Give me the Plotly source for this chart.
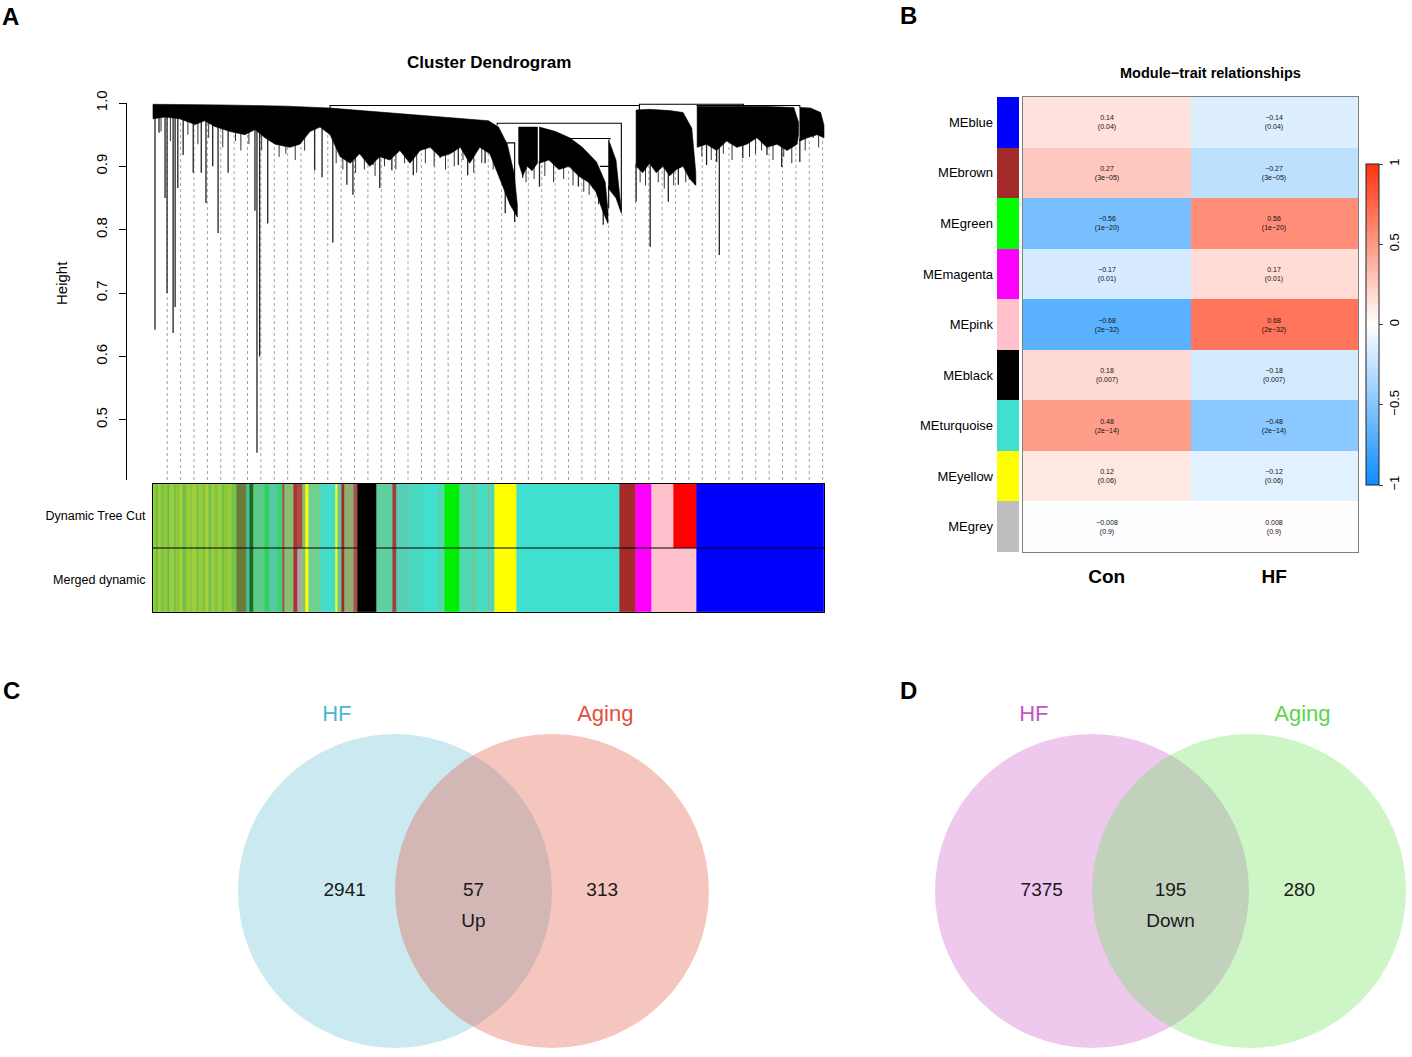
import numpy as np
import plotly.graph_objects as go

W, H = 1412, 1057
FONT = "Liberation Sans, Arial, Helvetica, sans-serif"
NARROW = "Liberation Sans Narrow, Arial Narrow, Liberation Sans, Arial, sans-serif"

# ================= Panel A: cluster dendrogram =================
# x = leaf position in % of leaf order, h = merge height
L_top_x = [0, 5, 10, 15, 20, 26.4, 32, 38, 44, 50, 51.5, 52.8, 53.8, 54.3]
L_top_h = [0.998, 0.998, 0.997, 0.996, 0.995, 0.992, 0.987, 0.982, 0.977, 0.972, 0.962, 0.935, 0.89, 0.84]
L_bot_x = [0, 1.8, 4, 6.3, 7.7, 9.2, 11.5, 13.7, 15.2, 16.7, 18.2, 20.4, 21.9, 23.4, 24.9, 26.4, 27.9,
           29.4, 30.8, 32.3, 33.8, 35.3, 36.8, 38.3, 39.8, 41.3, 42.8, 44.3, 45.8, 47.2, 48.7, 50.2,
           51.7, 53.2, 54.3]
L_bot_h = [0.975, 0.978, 0.975, 0.966, 0.972, 0.963, 0.955, 0.95, 0.958, 0.945, 0.935, 0.93, 0.935,
           0.955, 0.962, 0.95, 0.915, 0.905, 0.92, 0.90, 0.915, 0.91, 0.925, 0.905, 0.925, 0.93,
           0.915, 0.92, 0.93, 0.905, 0.93, 0.92, 0.88, 0.84, 0.82]
M1_top_x = [54.5, 57.3]
M1_top_h = [0.962, 0.962]
M1_bot_x = [54.5, 55.1, 55.8, 56.5, 57.3]
M1_bot_h = [0.905, 0.885, 0.9, 0.893, 0.905]
M2_top_x = [57.6, 60, 62.1, 64, 66.1, 67.4, 67.8]
M2_top_h = [0.962, 0.955, 0.945, 0.93, 0.907, 0.875, 0.83]
M2_bot_x = [57.6, 59, 60.5, 62, 63.4, 64.9, 66, 67, 67.8]
M2_bot_h = [0.905, 0.91, 0.895, 0.9, 0.885, 0.875, 0.86, 0.83, 0.81]
M3_top_x = [67.9, 69, 69.8]
M3_top_h = [0.942, 0.91, 0.83]
M3_bot_x = [67.9, 69, 69.8]
M3_bot_h = [0.865, 0.85, 0.826]
R1_top_x = [72, 74, 77, 79, 80.3, 80.9]
R1_top_h = [0.989, 0.99, 0.988, 0.985, 0.96, 0.89]
R1_bot_x = [72, 73, 74, 75, 76, 77, 78, 79, 80, 80.9]
R1_bot_h = [0.9, 0.89, 0.905, 0.89, 0.9, 0.885, 0.895, 0.9, 0.88, 0.87]
R2_top_x = [81.1, 85, 90, 95.5, 96.2]
R2_top_h = [0.995, 0.995, 0.995, 0.993, 0.97]
R2_bot_x = [81.1, 82.5, 84, 85.5, 87, 88.5, 90, 91.5, 93, 94.5, 96, 96.2]
R2_bot_h = [0.93, 0.935, 0.925, 0.94, 0.93, 0.935, 0.945, 0.93, 0.935, 0.925, 0.935, 0.95]
R3_top_x = [96.4, 98, 99.5, 100]
R3_top_h = [0.993, 0.992, 0.985, 0.965]
R3_bot_x = [96.4, 97.5, 99, 100]
R3_bot_h = [0.94, 0.945, 0.95, 0.945]

# long single-leaf drops
spike_x = [0.3, 0.9, 1.8, 2.1, 3.0, 3.3, 3.7, 4.5, 6.0, 7.2, 7.9, 8.9, 9.7, 11.2, 15.2, 15.5, 15.9,
           17.1, 24.1, 25.2, 26.8, 28.9, 29.8, 32.8, 33.8, 35.6, 38.8, 42.8, 45.5, 46.9, 49.5, 52.5,
           53.9, 55.1, 57.6, 63.4, 65.6, 67.1, 67.9, 72.0, 74.1, 76.8, 78.3, 80.8, 82.5, 84.0, 84.4,
           87.9, 91.5, 93.7, 96.4, 98.4]
spike_h = [0.642, 0.953, 0.85, 0.70, 0.637, 0.678, 0.866, 0.918, 0.89, 0.89, 0.842, 0.90, 0.795,
           0.89, 0.83, 0.448, 0.60, 0.81, 0.894, 0.883, 0.78, 0.871, 0.855, 0.902, 0.866, 0.894,
           0.886, 0.913, 0.902, 0.886, 0.905, 0.826, 0.812, 0.882, 0.868, 0.868, 0.871, 0.808,
           0.834, 0.844, 0.773, 0.844, 0.871, 0.883, 0.902, 0.907, 0.76, 0.913, 0.918, 0.899,
           0.907, 0.945]
# short hair-like drops along the lower edge of the dense branches
fringe_x = [1.2, 2.6, 5.2, 6.7, 8.3, 10.4, 12.3, 13.1, 14.3, 16.2, 18.8, 19.8, 21.2, 22.6, 27.3, 28.3,
            30.2, 31.5, 33.1, 34.5, 36.2, 37.5, 39.3, 40.6, 41.9, 43.6, 44.9, 46.2, 47.8, 49.0, 50.7,
            55.6, 56.8, 58.4, 59.7, 61.2, 62.6, 64.2, 65.0, 66.4, 72.6, 73.4, 75.3, 76.2, 77.6,
            79.4, 81.8, 83.2, 85.0, 86.3, 88.9, 89.8, 90.7, 92.4, 94.0, 95.2, 97.2, 99.2]
fringe_h = [0.955, 0.94, 0.95, 0.935, 0.945, 0.93, 0.94, 0.925, 0.935, 0.925, 0.915, 0.92, 0.91,
            0.925, 0.905, 0.895, 0.89, 0.895, 0.885, 0.9, 0.895, 0.905, 0.89, 0.905, 0.9, 0.895,
            0.9, 0.91, 0.89, 0.905, 0.895, 0.875, 0.88, 0.885, 0.875, 0.88, 0.87, 0.86, 0.855,
            0.84, 0.875, 0.87, 0.875, 0.865, 0.87, 0.875, 0.915, 0.91, 0.92, 0.91, 0.915, 0.92,
            0.925, 0.91, 0.915, 0.905, 0.925, 0.93]

brk_xl = [26.4, 72.5, 51.3, 62.1, 66.6, 51.3, 81.1]
brk_hl = [0.992, 0.989, 0.965, 0.945, 0.90, 0.93, 0.995]
brk_xr = [72.5, 88.0, 69.8, 68.1, 68.1, 53.9, 96.4]
brk_hr = [0.989, 0.995, 0.83, 0.942, 0.88, 0.86, 0.993]
brk_h = [0.996, 0.998, 0.968, 0.944, 0.90, 0.937, 0.996]

height_ticks = [0.5, 0.6, 0.7, 0.8, 0.9, 1.0]
n_guides = 50

# module colour rows under the tree (segment end in % of leaf order)
seg_end = [0.4, 0.9, 1.2, 1.8, 2.3, 2.6, 3.2, 3.6, 4.1, 4.5, 5.0, 5.6, 6.0, 6.5, 6.9, 7.5, 7.9,
           8.4, 8.8, 9.3, 9.9, 10.3, 10.8, 11.3, 11.8, 12.5,
           14.0, 14.5, 15.0, 16.7, 17.5, 18.5, 19.3, 19.7, 21.0, 21.6, 22.4, 22.8, 23.3, 25.0,
           27.2, 27.6, 28.1, 28.6, 30.0, 30.6, 33.4, 35.8, 36.4, 38.5, 40.5, 42.4, 43.5, 45.8,
           47.5, 48.5, 49.9, 50.3, 51.0, 54.2, 69.6, 72.0, 74.3, 77.7, 81.0, 100]
dyn_colors = ["#9ACD32", "#6CBF47", "#A8D030", "#7DC443", "#93C93A", "#62BC52", "#A2CC33", "#78C248",
              "#8FC93C", "#B0D22E", "#6EBF4C", "#9ACD32", "#82C541", "#A5CE31", "#6AC050", "#96CB36",
              "#7BC346", "#ABD030", "#70C04D", "#9CCD34", "#85C640", "#A0CE33", "#74C14A", "#8DC83B",
              "#9ACD32", "#76C24A",
              "#6B7B3A", "#45C0A0", "#1E6B1E", "#5CCB8A", "#30D060", "#55C8A8", "#3FD07A", "#B04545",
              "#86C070", "#A83535", "#B04848", "#7CC860", "#FFFF00", "#70D090", "#45DCC8", "#FFFF00",
              "#66C8A0", "#A52A2A", "#90B070", "#A85050", "#000000", "#60D0A0", "#A04040", "#58D0B8",
              "#48D8C0", "#40E0D0", "#50D8B0", "#00EE00", "#50D8B0", "#60D0A0", "#45DDC5", "#70C8A0",
              "#48D8C0", "#FFFF00", "#40E0D0", "#A52A2A", "#FF00FF", "#FFC0CB", "#FF0000", "#0000FF"]
merge_map = {"#FF0000": "#FFC0CB", "#B04848": "#A8A8A8"}
row_names = ["Merged dynamic", "Dynamic Tree Cut"]

# ================= Panel B: module-trait relationships =================
modules = ["MEblue", "MEbrown", "MEgreen", "MEmagenta", "MEpink", "MEblack", "MEturquoise",
           "MEyellow", "MEgrey"]
module_colors = ["#0000FF", "#A52A2A", "#00FF00", "#FF00FF", "#FFC0CB", "#000000", "#40E0D0",
                 "#FFFF00", "#BEBEBE"]
traits = ["Con", "HF"]
cor_con = [0.14, 0.27, -0.56, -0.17, -0.68, 0.18, 0.48, 0.12, -0.008]
cor_hf = [-0.14, -0.27, 0.56, 0.17, 0.68, -0.18, -0.48, -0.12, 0.008]
pval = ["0.04", "3e-05", "1e-20", "0.01", "2e-32", "0.007", "2e-14", "0.06", "0.9"]

# ================= Panels C / D: Venn diagrams =================
venn_c_sets = ["HF", "Aging"]
venn_c_counts = [2941, 57, 313]
venn_c_tag = "Up"
venn_d_sets = ["HF", "Aging"]
venn_d_counts = [7375, 195, 280]
venn_d_tag = "Down"


def fx(px):
    return px / W


def fy(py):
    return 1 - py / H


fig = go.Figure()

# ---------- dendrogram ----------
clusters = [(L_top_x, L_top_h, L_bot_x, L_bot_h), (M1_top_x, M1_top_h, M1_bot_x, M1_bot_h),
            (M2_top_x, M2_top_h, M2_bot_x, M2_bot_h), (M3_top_x, M3_top_h, M3_bot_x, M3_bot_h),
            (R1_top_x, R1_top_h, R1_bot_x, R1_bot_h), (R2_top_x, R2_top_h, R2_bot_x, R2_bot_h),
            (R3_top_x, R3_top_h, R3_bot_x, R3_bot_h)]


def lower_edge(x):
    for tx, th, bx, bh in clusters:
        if bx[0] <= x <= bx[-1]:
            return float(np.interp(x, bx, bh))
    best = min(clusters, key=lambda c: min(abs(x - c[2][0]), abs(x - c[2][-1])))
    return float(np.interp(x, best[2], best[3]))


Y_LO, Y_HI = 0.405, 1.0
gx, gy = [], []
for g in np.linspace(2.13, 99.8, n_guides):
    gx += [g, g, None]
    gy += [Y_LO, lower_edge(g), None]
fig.add_trace(go.Scatter(x=gx, y=gy, mode="lines", line=dict(color="#8a8a8a", width=0.8, dash="dot"),
                         xaxis="x", yaxis="y", hoverinfo="skip"))

for xs, hs, wid, col in [(spike_x, spike_h, 1.3, "#222222"), (fringe_x, fringe_h, 1.0, "#333333")]:
    sx, sy = [], []
    for x, h in zip(xs, hs):
        sx += [x, x, None]
        sy += [lower_edge(x) + 0.004, min(h, lower_edge(x)), None]
    fig.add_trace(go.Scatter(x=sx, y=sy, mode="lines", line=dict(color=col, width=wid),
                             xaxis="x", yaxis="y", hoverinfo="skip"))

px_, py_ = [], []
for tx, th, bx, bh in clusters:
    px_ += list(tx) + list(bx[::-1]) + [tx[0], None]
    py_ += list(th) + list(bh[::-1]) + [th[0], None]
fig.add_trace(go.Scatter(x=px_, y=py_, mode="lines", fill="toself", fillcolor="#000000",
                         line=dict(color="#000000", width=0.6), xaxis="x", yaxis="y", hoverinfo="skip"))

bx_, by_ = [], []
for xl, hl, xr, hr, h in zip(brk_xl, brk_hl, brk_xr, brk_hr, brk_h):
    bx_ += [xl, xl, xr, xr, None]
    by_ += [hl, h, h, hr, None]
fig.add_trace(go.Scatter(x=bx_, y=by_, mode="lines", line=dict(color="#000000", width=1.1),
                         xaxis="x", yaxis="y", hoverinfo="skip"))

# ---------- colour rows ----------
seg_start = [0] + seg_end[:-1]
widths = [e - s for s, e in zip(seg_start, seg_end)]
merged_colors = [merge_map.get(c, c) for c in dyn_colors]
for row, cols in zip(row_names, [merged_colors, dyn_colors]):
    fig.add_trace(go.Bar(orientation="h", y=[row] * len(widths), x=widths, base=seg_start, width=1,
                         marker=dict(color=cols, line=dict(color=cols, width=0.6)),
                         xaxis="x2", yaxis="y2", hoverinfo="skip"))

# ---------- module-trait heatmap ----------
fig.add_trace(go.Bar(orientation="h", y=modules, x=[1] * len(modules), width=1,
                     marker=dict(color=module_colors, line=dict(width=0)),
                     xaxis="x3", yaxis="y3", hoverinfo="skip"))


def fmt(v):
    return f"{v:g}".replace("-", "\u2212")


z = [[c, h] for c, h in zip(cor_con, cor_hf)]
txt = [[f"{fmt(c)}<br>({p.replace('-', chr(0x2212))})", f"{fmt(h)}<br>({p.replace('-', chr(0x2212))})"]
       for c, h, p in zip(cor_con, cor_hf, pval)]
fig.add_trace(go.Heatmap(
    z=z, x=traits, y=modules, text=txt, texttemplate="%{text}",
    textfont=dict(size=7, color="#111111", family=FONT),
    zmin=-1, zmax=1,
    colorscale=[[0, "rgb(13,140,255)"], [0.5, "rgb(255,255,255)"], [1, "rgb(255,51,13)"]],
    xaxis="x4", yaxis="y4", hoverinfo="skip",
    colorbar=dict(x=fx(1366), xanchor="left", y=fy(324.5), yanchor="middle", len=321 / H,
                  lenmode="fraction", thickness=13, thicknessmode="pixels", xpad=0, ypad=0,
                  outlinewidth=1, outlinecolor="#222222", ticks="outside", ticklen=4,
                  tickvals=[-1, -0.5, 0, 0.5, 1],
                  ticktext=["\u22121", "\u22120.5", "0", "0.5", "1"],
                  tickfont=dict(size=13, family=FONT, color="black"), tickangle=-90)))

# ---------- Venn diagrams ----------
shapes = []


def venn(xa, ya, sets, counts, tag, fills, labcols):
    for cx, fc in zip([0, 1], fills):
        shapes.append(dict(type="circle", xref=xa, yref=ya, x0=cx - 1, x1=cx + 1, y0=-1, y1=1,
                           fillcolor=fc, line=dict(width=0), layer="below"))
    fig.add_trace(go.Scatter(x=[-0.32, 0.5, 1.32, 0.5], y=[0, 0, 0, -0.2], mode="text",
                             text=[str(c) for c in counts] + [tag],
                             textfont=dict(size=19, color="#1a1a1a", family=FONT),
                             xaxis=xa, yaxis=ya, hoverinfo="skip"))
    fig.add_trace(go.Scatter(x=[-0.37, 1.34], y=[1.115, 1.115], mode="text", text=sets,
                             textfont=dict(size=22, color=labcols, family=FONT),
                             xaxis=xa, yaxis=ya, hoverinfo="skip"))


venn("x5", "y5", venn_c_sets, venn_c_counts, venn_c_tag,
     ["rgba(106,192,215,0.35)", "rgba(226,92,69,0.35)"], ["#4DB5D0", "#E0503C"])
venn("x6", "y6", venn_d_sets, venn_d_counts, venn_d_tag,
     ["rgba(209,98,206,0.35)", "rgba(112,226,92,0.35)"], ["#C455C4", "#5CD44C"])

# middle separator of colour rows
shapes.append(dict(type="line", xref="x2", yref="y2", x0=0, x1=100, y0=0.5, y1=0.5,
                   line=dict(color="black", width=1.2)))

ann = []


def add_ann(text, x, y, size, angle=0):
    ann.append(dict(text=text, x=fx(x), y=fy(y), xref="paper", yref="paper", showarrow=False,
                    xanchor="center", yanchor="middle", textangle=angle,
                    font=dict(size=size, family=FONT, color="black")))


for letter, x, y in [("A", 10, 16), ("B", 908, 15), ("C", 11, 690), ("D", 908, 690)]:
    add_ann(f"<b>{letter}</b>", x, y, 24)
add_ann("<b>Cluster Dendrogram</b>", 489, 62, 17)
add_ann("Height", 62, 283, 15, -90)
add_ann("<b>Module\u2212trait relationships</b>", 1210, 73, 14.5)

hidden = dict(visible=False, showgrid=False, zeroline=False)
fig.update_layout(
    width=W, height=H, margin=dict(l=0, r=0, t=0, b=0, pad=0, autoexpand=False),
    paper_bgcolor="white", plot_bgcolor="white", showlegend=False,
    font=dict(family=FONT, color="black"), barmode="overlay", bargap=0,
    shapes=shapes, annotations=ann,
    xaxis=dict(domain=[fx(127), fx(826)], range=[-3.87, 100.3], **hidden),
    yaxis=dict(domain=[fy(480), fy(103)], range=[Y_LO, Y_HI], anchor="x", showline=True,
               linecolor="black", linewidth=1, ticks="outside", ticklen=7, tickcolor="black",
               tickvals=height_ticks, ticktext=[f"{t:.1f}" for t in height_ticks], tickangle=-90,
               tickfont=dict(size=15), showgrid=False, zeroline=False, ticklabelstandoff=6),
    xaxis2=dict(domain=[fx(153), fx(824)], range=[0, 100], anchor="y2", showline=True, mirror=True,
                linecolor="black", linewidth=1, showticklabels=False, ticks="", showgrid=False,
                zeroline=False),
    yaxis2=dict(domain=[fy(612), fy(484)], anchor="x2", type="category", categoryorder="array",
                categoryarray=row_names, range=[-0.5, 1.5], showline=True, mirror=True,
                linecolor="black", linewidth=1, ticks="", tickfont=dict(size=12.5),
                showgrid=False, ticklabelstandoff=4),
    xaxis3=dict(domain=[fx(997), fx(1019)], range=[0, 1], anchor="y3", **hidden),
    yaxis3=dict(domain=[fy(552), fy(97)], anchor="x3", type="category", categoryorder="array",
                categoryarray=modules, range=[8.5, -0.5], ticks="", tickfont=dict(size=13),
                showgrid=False, showline=False, ticklabelstandoff=3),
    xaxis4=dict(domain=[fx(1023), fx(1358)], anchor="y4", type="category", categoryorder="array",
                categoryarray=traits, showline=True, mirror=True, linecolor="#7f7f7f", linewidth=1,
                ticks="", tickfont=dict(size=19, family=NARROW), showgrid=False,
                tickprefix="<b>", ticksuffix="</b>", ticklabelstandoff=7),
    yaxis4=dict(domain=[fy(552), fy(97)], anchor="x4", type="category", categoryorder="array",
                categoryarray=modules, range=[8.5, -0.5], showticklabels=False, showline=True,
                mirror=True, linecolor="#7f7f7f", linewidth=1, ticks="", showgrid=False),
    xaxis5=dict(domain=[fx(180), fx(760)], range=[-1.369, 2.325], anchor="y5", **hidden),
    yaxis5=dict(domain=[fy(1057), fy(690)], range=[-1.057, 1.280], anchor="x5", **hidden),
    xaxis6=dict(domain=[fx(877), fx(1412)], range=[-1.369, 2.038], anchor="y6", **hidden),
    yaxis6=dict(domain=[fy(1057), fy(690)], range=[-1.057, 1.280], anchor="x6", **hidden),
)

fig.write_html("out.html", config={"displayModeBar": False},
               post_script="document.body.style.margin='0px';")
